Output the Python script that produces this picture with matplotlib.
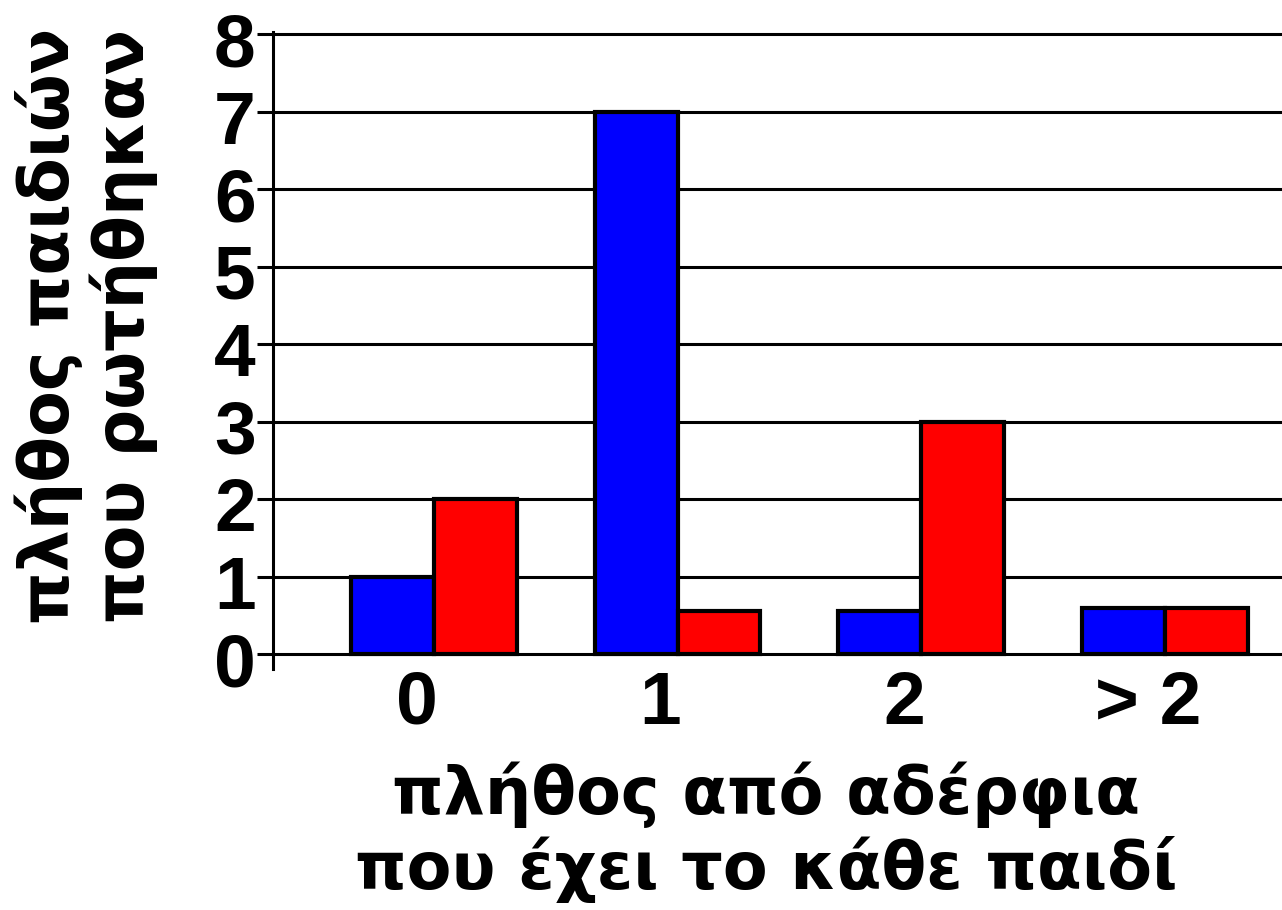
import matplotlib
matplotlib.use("Agg")
import matplotlib.pyplot as plt
import matplotlib.transforms as mtransforms
import numpy as np

# data
categories = ['0', '1', '2', '> 2']
blue_vals = [1, 7, 0.55, 0.6]
red_vals = [2, 0.55, 3, 0.6]
yticks = [0, 1, 2, 3, 4, 5, 6, 7, 8]

xlabel_txt = 'πλήθος από αδέρφια\nπου έχει το κάθε παιδί'
ylabel_txt = 'πλήθος παιδιών\nπου ρωτήθηκαν'

W, H = 1282, 910
fig = plt.figure(figsize=(W / 100, H / 100), dpi=100)

# axes box in pixels: left 273, right 1282, y=-0.2 at 669.5, y=8.03 at 31.7
ax = fig.add_axes([273 / W, (H - 669.5) / H, (1282 - 273) / W, (669.5 - 31.7) / H])

x = np.arange(len(categories))
bw = 0.34
ax.bar(x - bw / 2, blue_vals, bw, color='#0000ff', edgecolor='black', linewidth=3, zorder=3)
ax.bar(x + bw / 2, red_vals, bw, color='#ff0000', edgecolor='black', linewidth=3, zorder=3)

ax.set_xlim(-0.66, 3.48)
ax.set_ylim(-0.2, 8.03)

ax.set_yticks(yticks)
ax.set_yticklabels([str(v) for v in yticks])
ax.yaxis.grid(True, color='black', linewidth=2.2, zorder=0)
ax.set_axisbelow(True)

for s in ['top', 'right', 'bottom']:
    ax.spines[s].set_visible(False)
ax.spines['left'].set_linewidth(2.2)

ax.tick_params(axis='y', length=11.5, width=2.2, pad=1)
ax.tick_params(axis='x', length=0, pad=0)

ax.set_xticks(x)
ax.set_xticklabels(categories)

tick_font = dict(family='Liberation Sans', weight='bold', size=54)
for lab in ax.get_yticklabels():
    lab.set_fontproperties(matplotlib.font_manager.FontProperties(**tick_font))
    lab.set_transform(lab.get_transform() + mtransforms.ScaledTranslation(0, -5 / 100, fig.dpi_scale_trans))
for lab in ax.get_xticklabels():
    lab.set_fontproperties(matplotlib.font_manager.FontProperties(**tick_font))
    lab.set_transform(lab.get_transform() + mtransforms.ScaledTranslation(-17 / 100, 0, fig.dpi_scale_trans))

label_font = dict(family='DejaVu Sans', weight='bold', size=47)
fig.text(766 / W, 1 - 832 / H, xlabel_txt, ha='center', va='center', linespacing=1.15, **label_font)
fig.text(86 / W, 1 - 326 / H, ylabel_txt, ha='center', va='center', rotation=90,
         linespacing=1.12, family='DejaVu Sans', weight='bold', size=48)

plt.savefig('out.png', dpi=100)
